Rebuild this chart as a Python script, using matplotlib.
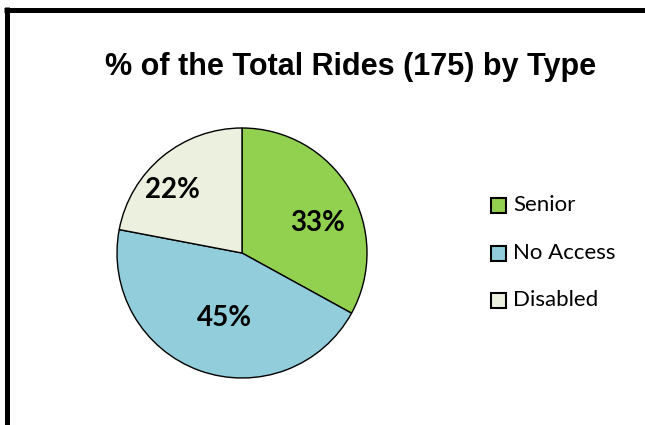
import matplotlib
matplotlib.use("Agg")
import matplotlib.pyplot as plt
from matplotlib.lines import Line2D
from matplotlib.patches import Rectangle
import numpy as np

categories = ["Senior", "No Access", "Disabled"]
values = [33, 45, 22]
colors = ["#92D050", "#92CDDC", "#EBF1DE"]
title = "% of the Total Rides (175) by Type"

W, H = 645, 425
fig = plt.figure(figsize=(W / 100, H / 100), dpi=100)
fig.patch.set_facecolor("white")

# pie axes: centre (242,253) px, radius 125 px
cx, cy, r = 242, 253, 125
ax = fig.add_axes([(cx - r) / W, (H - cy - r) / H, 2 * r / W, 2 * r / H])
wedges, texts, autotexts = ax.pie(
    values, colors=colors, startangle=90, counterclock=False,
    autopct="%1.0f%%", pctdistance=0.66,
    wedgeprops=dict(edgecolor="black", linewidth=1.0),
    textprops=dict(fontsize=20, fontweight="bold", family=["Lato", "DejaVu Sans"], color="black"),
)
ax.set_xlim(-1, 1)
ax.set_ylim(-1, 1)
ax.set_aspect("equal")
for w in wedges:
    w.set_clip_on(False)

# nudge label positions along their wedge direction to match reference
adj = [(0.65, -9), (0.54, 5), (0.75, 8.5)]
for w, t, (rd, dang) in zip(wedges, autotexts, adj):
    ang = np.deg2rad((w.theta1 + w.theta2) / 2 + dang)
    t.set_position((rd * np.cos(ang), rd * np.sin(ang)))

fig.text(351 / W, 1 - 67 / H, title, ha="center", va="center", fontsize=22,
         fontweight="bold", family=["Liberation Sans", "DejaVu Sans"])

# legend
ys = [205, 253, 300]
for lab, col, y in zip(categories, colors, ys):
    fig.patches.append(Rectangle((491 / W, 1 - (y + 7.5) / H), 15 / W, 15 / H,
                                 transform=fig.transFigure, facecolor=col,
                                 edgecolor="black", linewidth=1.5))
    fig.text(513 / W, 1 - y / H, lab, ha="left", va="center", fontsize=16,
             family=["Lato", "DejaVu Sans"])

# frame (top and left edges visible)
lw = 5 * 72 / 100
fig.add_artist(Line2D([6.5 / W, 6.5 / W], [0, 1 - 7 / H], transform=fig.transFigure,
                      color="black", linewidth=lw, solid_capstyle="butt"))
fig.add_artist(Line2D([4 / W, 1], [1 - 9.5 / H, 1 - 9.5 / H], transform=fig.transFigure,
                      color="black", linewidth=lw, solid_capstyle="butt"))

fig.savefig("out.png", dpi=100)
